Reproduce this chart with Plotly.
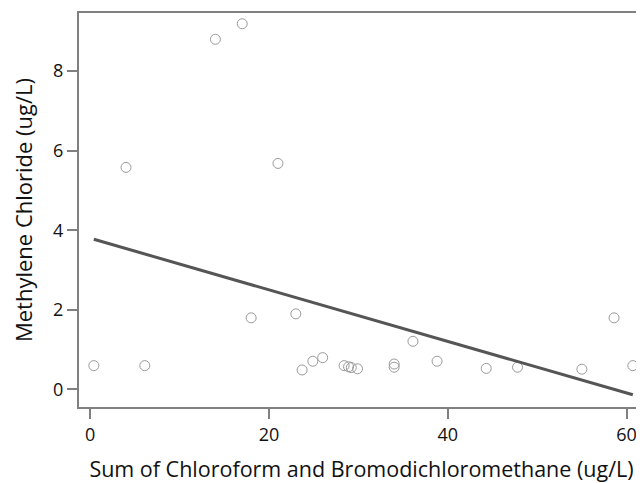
import plotly.graph_objects as go

# Data
x_vals = [0.4, 4.0, 6.1, 14.0, 17.0, 18.0, 21.0, 23.0, 23.7, 24.9, 26.0,
          28.4, 28.9, 29.2, 29.9, 34.0, 34.0, 36.1, 38.8, 44.3, 47.8,
          55.0, 58.6, 60.7]
y_vals = [0.60, 5.58, 0.60, 8.80, 9.19, 1.80, 5.68, 1.90, 0.49, 0.71, 0.80,
          0.60, 0.57, 0.55, 0.52, 0.64, 0.56, 1.21, 0.71, 0.53, 0.56,
          0.51, 1.80, 0.60]

fit_intercept = 3.80
fit_slope = -0.0648

x_ticks = [0, 20, 40, 60]
y_ticks = [0, 2, 4, 6, 8]

x_line = [min(x_vals), max(x_vals)]
y_line = [fit_intercept + fit_slope * v for v in x_line]

fig = go.Figure()
fig.add_trace(go.Scatter(
    x=x_vals, y=y_vals, mode="markers",
    marker=dict(symbol="circle-open", size=10, color="#9a9a9a",
                line=dict(width=1, color="#9a9a9a")),
    showlegend=False, hoverinfo="x+y"))
fig.add_trace(go.Scatter(
    x=x_line, y=y_line, mode="lines",
    line=dict(color="#555555", width=3),
    showlegend=False))

font_family = "Open Sans, Noto Sans, DejaVu Sans, sans-serif"
axis_common = dict(
    showgrid=False, zeroline=False, showline=True, automargin=False,
    linecolor="#808080", linewidth=2,
    ticks="outside", ticklen=10, tickwidth=2, tickcolor="#808080",
    tickfont=dict(family=font_family, size=18, color="#111111"),
)

# page has an 8px body margin, so the figure is sized/offset to compensate
fig.update_layout(
    width=636, height=475,
    margin=dict(l=71, r=0, t=5, b=76),
    paper_bgcolor="white", plot_bgcolor="white",
    font=dict(family=font_family, color="#111111"),
    xaxis=dict(range=[-1.26, 61.95], tickvals=x_ticks, mirror=True,
               title=dict(text="Sum of Chloroform and Bromodichloromethane (ug/L)",
                          font=dict(family=font_family, size=21.5, color="#111111"),
                          standoff=18),
               **axis_common),
    yaxis=dict(range=[-0.44, 9.46], tickvals=y_ticks,
               title=dict(text="Methylene Chloride (ug/L)",
                          font=dict(family=font_family, size=22, color="#111111"),
                          standoff=25),
               **axis_common),
)

fig.write_html("out.html")
